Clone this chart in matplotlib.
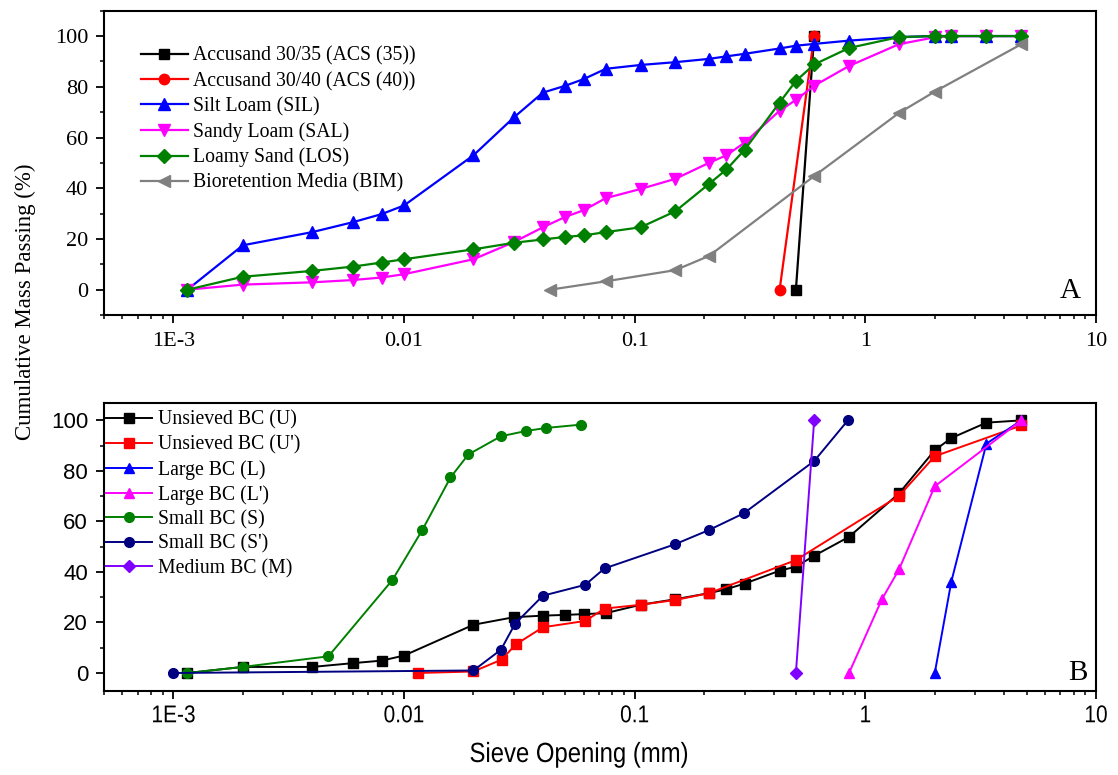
import matplotlib
matplotlib.use("Agg")
import matplotlib.pyplot as plt
from matplotlib.patheffects import AbstractPathEffect
from matplotlib.transforms import Affine2D
from matplotlib.ticker import LogLocator, FixedLocator, FixedFormatter, MultipleLocator, NullFormatter

SERIF = "Liberation Serif"
SANS = "Liberation Sans"


class Squeeze(AbstractPathEffect):
    """Horizontally condense text about its own centre (mimics a narrow font)."""
    def __init__(self, sx):
        super().__init__()
        self.sx = sx

    def draw_path(self, renderer, gc, tpath, affine, rgbFace=None):
        ext = tpath.get_extents()
        cx = (ext.x0 + ext.x1) / 2
        t = Affine2D().translate(-cx, 0).scale(self.sx, 1).translate(cx, 0) + affine
        renderer.draw_path(gc, tpath, t, rgbFace)


# ---------------- Panel A data ----------------
acs35_x = [0.5, 0.6]
acs35_y = [0, 100]
acs40_x = [0.425, 0.6]
acs40_y = [0, 100]
sil_x = [0.00115, 0.002, 0.004, 0.006, 0.008, 0.01, 0.02, 0.03, 0.04, 0.05, 0.06, 0.075,
         0.106, 0.15, 0.21, 0.25, 0.3, 0.425, 0.5, 0.6, 0.85, 1.4, 2.0, 2.36, 3.35, 4.75]
sil_y = [0, 17.5, 22.7, 26.6, 29.8, 33.2, 53.0, 68.0, 77.7, 80.4, 83.0, 87.1,
         88.6, 89.7, 91.0, 92.0, 93.0, 95.1, 96.2, 96.9, 98.2, 99.6, 100, 100, 100, 100]
sal_x = [0.00115, 0.002, 0.004, 0.006, 0.008, 0.01, 0.02, 0.03, 0.04, 0.05, 0.06, 0.075,
         0.106, 0.15, 0.21, 0.25, 0.3, 0.425, 0.5, 0.6, 0.85, 1.4, 2.0, 2.36, 3.35, 4.75]
sal_y = [0, 2.0, 2.9, 3.8, 4.8, 6.1, 12.0, 18.8, 24.6, 28.7, 31.3, 36.1,
         39.7, 43.7, 50.0, 53.0, 58.0, 70.6, 74.8, 80.4, 88.2, 96.8, 99.5, 100, 100, 100]
los_x = [0.00115, 0.002, 0.004, 0.006, 0.008, 0.01, 0.02, 0.03, 0.04, 0.05, 0.06, 0.075,
         0.106, 0.15, 0.21, 0.25, 0.3, 0.425, 0.5, 0.6, 0.85, 1.4, 2.0, 2.36, 3.35, 4.75]
los_y = [0, 5.1, 7.4, 9.1, 10.7, 12.0, 15.9, 18.5, 19.8, 20.8, 21.4, 22.7,
         24.6, 30.9, 41.7, 47.4, 55.2, 73.8, 82.3, 88.8, 95.3, 99.6, 100, 100, 100, 100]
bim_x = [0.043, 0.075, 0.15, 0.21, 0.6, 1.4, 2.0, 4.75]
bim_y = [0, 3.3, 7.7, 13.3, 44.8, 69.7, 78.1, 96.8]

# ---------------- Panel B data ----------------
u_x = [0.00115, 0.002, 0.004, 0.006, 0.008, 0.01, 0.02, 0.03, 0.04, 0.05, 0.06, 0.075,
       0.106, 0.15, 0.21, 0.25, 0.3, 0.425, 0.5, 0.6, 0.85, 1.4, 2.0, 2.36, 3.35, 4.75]
u_y = [0, 2.4, 2.4, 3.9, 4.9, 6.9, 19.1, 22.1, 22.7, 23.0, 23.3, 23.7,
       27.0, 29.2, 31.6, 33.2, 35.4, 40.5, 42.1, 46.4, 53.9, 71.1, 88.2, 93.0, 99.1, 100]
up_x = [0.0115, 0.02, 0.0265, 0.0305, 0.04, 0.061, 0.074, 0.106, 0.15, 0.21, 0.5, 1.4, 2.0, 4.75]
up_y = [0, 0.6, 5.3, 11.3, 18.1, 20.6, 25.5, 27.0, 28.9, 31.6, 44.7, 70.1, 85.8, 98.0]
l_x = [2.0, 2.36, 3.35, 4.75]
l_y = [0, 36.2, 90.8, 100]
lp_x = [0.85, 1.18, 1.4, 2.0, 4.75]
lp_y = [0, 29.2, 41.0, 73.9, 100]
s_x = [0.00115, 0.002, 0.0047, 0.0089, 0.012, 0.0159, 0.019, 0.0263, 0.0338, 0.0413, 0.0583]
s_y = [0, 2.4, 6.6, 36.8, 56.6, 77.4, 86.5, 93.7, 95.8, 97.0, 98.3]
sp_x = [0.001, 0.02, 0.0263, 0.0303, 0.04, 0.061, 0.074, 0.149, 0.21, 0.297, 0.6, 0.84]
sp_y = [0, 1.0, 9.2, 19.5, 30.6, 34.9, 41.4, 50.9, 56.6, 63.2, 83.9, 100]
m_x = [0.5, 0.6]
m_y = [0, 100]

xticks = [0.001, 0.01, 0.1, 1, 10]
xticklabels = ["1E-3", "0.01", "0.1", "1", "10"]

fig = plt.figure(figsize=(11.18, 7.75), dpi=100)
axA = fig.add_axes([0.0930, 0.5935, 0.8873, 0.3927])
axB = fig.add_axes([0.0930, 0.1088, 0.8873, 0.3716])

seriesA = [
    (acs35_x, acs35_y, "Accusand 30/35 (ACS (35))", "#000000", "s", 7),
    (acs40_x, acs40_y, "Accusand 30/40 (ACS (40))", "#ff0000", "o", 7.5),
    (sil_x, sil_y, "Silt Loam (SIL)", "#0000ff", "^", 8.5),
    (sal_x, sal_y, "Sandy Loam (SAL)", "#ff00ff", "v", 8.5),
    (los_x, los_y, "Loamy Sand (LOS)", "#008000", "D", 7),
    (bim_x, bim_y, "Bioretention Media (BIM)", "#808080", "<", 8.5),
]
for x, y, lab, c, mk, ms in seriesA:
    axA.plot(x, y, color=c, marker=mk, markersize=ms, lw=1.6, label=lab,
             markeredgecolor=c, markerfacecolor=c)

seriesB = [
    (u_x, u_y, "Unsieved BC (U)", "#000000", "s", 6.5),
    (up_x, up_y, "Unsieved BC (U')", "#ff0000", "s", 6.5),
    (l_x, l_y, "Large BC (L)", "#0000ff", "^", 7.5),
    (lp_x, lp_y, "Large BC (L')", "#ff00ff", "^", 7.5),
    (s_x, s_y, "Small BC (S)", "#008000", "o", 7),
    (sp_x, sp_y, "Small BC (S')", "#000080", "o", 7),
    (m_x, m_y, "Medium BC (M)", "#8000ff", "D", 6.5),
]
for x, y, lab, c, mk, ms in seriesB:
    axB.plot(x, y, color=c, marker=mk, markersize=ms, lw=1.4, label=lab,
             markeredgecolor=c, markerfacecolor=c)

for ax, ylim in [(axA, (-10, 110)), (axB, (-7, 107))]:
    ax.set_xscale("log")
    ax.set_xlim(5e-4, 10)
    ax.set_ylim(*ylim)
    ax.xaxis.set_major_locator(FixedLocator(xticks))
    ax.xaxis.set_major_formatter(FixedFormatter(xticklabels))
    ax.xaxis.set_minor_locator(LogLocator(base=10, subs=range(2, 10), numticks=20))
    ax.xaxis.set_minor_formatter(NullFormatter())
    ax.yaxis.set_major_locator(MultipleLocator(20))
    ax.yaxis.set_minor_locator(MultipleLocator(10))
    ax.tick_params(which="major", direction="out", length=5.5, width=1.3)
    ax.tick_params(which="minor", direction="out", length=3, width=1.1)
    ax.tick_params(top=False, right=False, which="both")
    for sp in ax.spines.values():
        sp.set_linewidth(1.5)

axA.tick_params(axis="y", pad=6)
axA.tick_params(axis="x", pad=7)
axB.tick_params(axis="y", pad=6)
axB.tick_params(axis="x", pad=5)

for t in axA.get_yticklabels() + axA.get_xticklabels():
    t.set_fontfamily(SERIF)
    t.set_fontsize(16)
for t in axB.get_yticklabels():
    t.set_fontfamily(SANS)
    t.set_fontsize(16)
for t in axB.get_xticklabels():
    t.set_fontfamily(SANS)
    t.set_fontsize(17.5)
    t.set_path_effects([Squeeze(0.86)])

legA = axA.legend(loc="upper left", bbox_to_anchor=(0.037, 0.882), frameon=False,
                  prop={"family": SERIF, "size": 14.2}, handlelength=2.39, handletextpad=0.24,
                  labelspacing=0.30, borderpad=0, borderaxespad=0)
legB = axB.legend(loc="upper left", bbox_to_anchor=(0.0, 0.979), frameon=False,
                  prop={"family": SERIF, "size": 14.2}, handlelength=2.35, handletextpad=0.27,
                  labelspacing=0.27, borderpad=0.1, borderaxespad=0)

axA.text(0.985, 0.08, "A", transform=axA.transAxes, ha="right", va="center",
         fontfamily=SERIF, fontsize=21)
axB.text(0.992, 0.06, "B", transform=axB.transAxes, ha="right", va="center",
         fontfamily=SERIF, fontsize=21)

fig.text(25 / 1118, 1 - 301.5 / 775, "Cumulative Mass Passing (%)", rotation=90,
         ha="center", va="center", fontfamily=SERIF, fontsize=16.5)
fig.text(579 / 1118, 1 - 755 / 775, "Sieve Opening (mm)", ha="center", va="center",
         fontfamily=SANS, fontsize=20, path_effects=[Squeeze(0.86)])

fig.savefig("out.png", dpi=100)
